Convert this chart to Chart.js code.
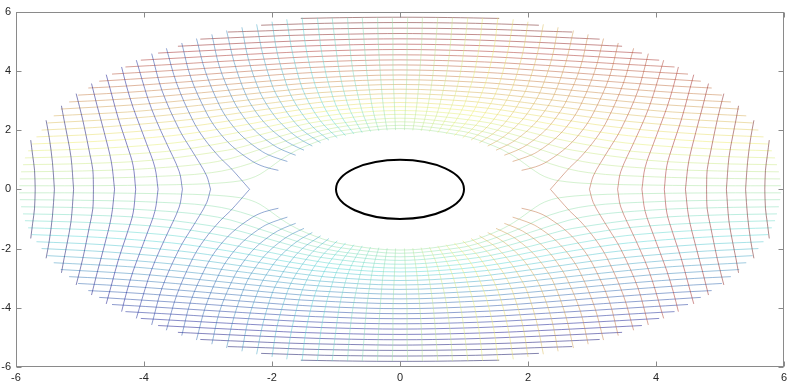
<!DOCTYPE html>
<html>
<head>
<meta charset="utf-8">
<script src="https://cdn.jsdelivr.net/npm/chart.js@4.4.0/dist/chart.umd.min.js"></script>
<style>
  html, body { margin: 0; padding: 0; background: #fff; }
  #wrap { width: 800px; height: 387px; }
</style>
</head>
<body>
<div id="wrap"><canvas id="flowChart"></canvas></div>
<script>
// ===========================================
// FLOW NET AROUND A CYLINDER (contour lines)
// ===========================================

const axisMin = -6;
const axisMax = 6;
const tickValues = [-6, -4, -2, 0, 2, 4, 6];
const cylinderRadius = 1;
const levelCount = 50;      // contour levels in each family
const lineAlpha = 0.5;
const lineSaturation = 0.5; // the lines in the picture look washed out

// Equipotential lines, upper-left quarter of the picture.
// Outermost (far left) first; each runs from y = 0 / the hole up to the outer edge.
const potentialLines = [
  [[-5.70, 0], [-5.71, 0.64], [-5.74, 1.15], [-5.77, 1.66]],
  [[-5.40, 0], [-5.43, 0.90], [-5.48, 1.74], [-5.53, 2.33]],
  [[-5.10, 0], [-5.14, 1.08], [-5.20, 1.81], [-5.25, 2.35], [-5.29, 2.82]],
  [[-4.79, 0], [-4.80, 0.66], [-4.85, 1.23], [-4.96, 2.37], [-5.06, 3.23]],
  [[-4.46, 0], [-4.51, 0.92], [-4.62, 1.91], [-4.73, 2.80], [-4.82, 3.57]],
  [[-4.13, 0], [-4.17, 0.80], [-4.26, 1.46], [-4.40, 2.38], [-4.50, 3.16], [-4.59, 3.87]],
  [[-3.78, 0], [-3.83, 0.74], [-3.96, 1.54], [-4.17, 2.76], [-4.27, 3.46], [-4.35, 4.13]],
  [[-3.40, 0], [-3.45, 0.60], [-3.66, 1.61], [-3.82, 2.38], [-3.94, 3.07], [-4.12, 4.36]],
  [[-2.96, 0], [-3.02, 0.45], [-3.13, 0.88], [-3.25, 1.30], [-3.45, 2.02], [-3.72, 3.34], [-3.88, 4.58]],
  [[-2.35, 0], [-2.65, 0.73], [-2.81, 1.06], [-3.06, 1.71], [-3.24, 2.34], [-3.49, 3.58], [-3.65, 4.76]],
  [[-1.90, 0.64], [-2.12, 0.76], [-2.31, 0.95], [-2.62, 1.45], [-2.86, 2.02], [-3.03, 2.61], [-3.27, 3.78], [-3.41, 4.94]],
  [[-1.76, 0.94], [-1.97, 1.09], [-2.15, 1.27], [-2.44, 1.74], [-2.66, 2.27], [-2.82, 2.83], [-3.04, 3.97], [-3.18, 5.09]],
  [[-1.63, 1.15], [-1.83, 1.32], [-1.99, 1.51], [-2.26, 1.97], [-2.46, 2.49], [-2.61, 3.03], [-2.82, 4.13], [-2.94, 5.23]],
  [[-1.50, 1.32], [-1.68, 1.50], [-1.83, 1.70], [-2.08, 2.16], [-2.27, 2.67], [-2.41, 3.20], [-2.59, 4.28], [-2.71, 5.36]],
  [[-1.37, 1.46], [-1.53, 1.65], [-1.67, 1.86], [-1.90, 2.32], [-2.07, 2.82], [-2.20, 3.34], [-2.37, 4.40], [-2.47, 5.47]],
  [[-1.24, 1.57], [-1.52, 1.99], [-1.72, 2.46], [-1.87, 2.96], [-1.99, 3.47], [-2.14, 4.52], [-2.24, 5.57]],
  [[-1.11, 1.66], [-1.36, 2.10], [-1.54, 2.58], [-1.68, 3.07], [-1.78, 3.58], [-1.92, 4.62], [-2.00, 5.66]],
  [[-0.98, 1.74], [-1.20, 2.20], [-1.36, 2.68], [-1.48, 3.17], [-1.57, 3.68], [-1.69, 4.71], [-1.77, 5.74]],
  [[-0.85, 1.81], [-1.04, 2.28], [-1.18, 2.76], [-1.28, 3.26], [-1.36, 3.76], [-1.47, 4.78], [-1.53, 5.80]],
  [[-0.72, 1.87], [-0.88, 2.34], [-1.00, 2.83], [-1.08, 3.33], [-1.15, 3.83], [-1.24, 4.84], [-1.29, 5.79]],
  [[-0.59, 1.91], [-0.72, 2.40], [-0.82, 2.89], [-0.94, 3.89], [-1.01, 4.90], [-1.06, 5.80]],
  [[-0.46, 1.95], [-0.56, 2.44], [-0.63, 2.93], [-0.73, 3.93], [-0.79, 4.94], [-0.82, 5.80]],
  [[-0.33, 1.97], [-0.40, 2.47], [-0.45, 2.97], [-0.52, 3.97], [-0.56, 4.97], [-0.59, 5.80]],
  [[-0.20, 1.99], [-0.24, 2.49], [-0.27, 2.99], [-0.31, 3.99], [-0.34, 4.99], [-0.35, 5.80]],
  [[-0.07, 2.00], [-0.09, 3.00], [-0.11, 4.00], [-0.11, 5.00], [-0.12, 5.80]]
];

// Streamlines, upper-left quarter: from the left edge to the crest at x = 0.
// The one hugging the hole first, the top one last.
const streamLines = [
  [[-5.95, 0.12], [-5.00, 0.12], [-4.00, 0.14], [-2.99, 0.19], [-2.48, 0.29], [-2.26, 0.43], [-2.12, 0.60], [-1.77, 1.13], [-1.46, 1.47], [-0.96, 1.82], [0, 2.05]],
  [[-5.94, 0.35], [-4.99, 0.37], [-3.98, 0.42], [-2.95, 0.56], [-2.34, 0.87], [-1.91, 1.29], [-1.68, 1.49], [-1.25, 1.81], [-0.91, 1.98], [0, 2.16]],
  [[-5.92, 0.59], [-4.96, 0.62], [-3.94, 0.70], [-2.85, 0.94], [-2.04, 1.45], [-1.68, 1.71], [-1.39, 1.90], [-0.83, 2.14], [0, 2.28]],
  [[-5.89, 0.83], [-4.92, 0.87], [-3.88, 0.98], [-2.70, 1.32], [-2.27, 1.55], [-1.46, 2.03], [-1.09, 2.19], [0, 2.40]],
  [[-5.86, 1.06], [-4.87, 1.12], [-3.80, 1.25], [-3.21, 1.40], [-2.48, 1.69], [-1.89, 2.00], [-1.20, 2.31], [0, 2.53]],
  [[-5.81, 1.30], [-4.81, 1.37], [-3.69, 1.53], [-3.06, 1.71], [-2.17, 2.07], [-1.52, 2.35], [-0.89, 2.55], [0, 2.66]],
  [[-5.75, 1.53], [-4.73, 1.62], [-3.57, 1.81], [-2.86, 2.02], [-2.29, 2.23], [-1.74, 2.45], [-0.97, 2.68], [0, 2.79]],
  [[-5.68, 1.77], [-4.64, 1.87], [-3.41, 2.09], [-2.61, 2.33], [-2.05, 2.52], [-1.32, 2.75], [0, 2.93]],
  [[-5.60, 2.00], [-4.53, 2.12], [-3.22, 2.37], [-2.30, 2.64], [-1.54, 2.86], [-1.03, 2.98], [0, 3.08]],
  [[-5.51, 2.24], [-4.41, 2.37], [-3.76, 2.48], [-3.00, 2.65], [-2.17, 2.87], [-1.30, 3.09], [0, 3.23]],
  [[-5.41, 2.48], [-4.26, 2.61], [-3.57, 2.74], [-2.73, 2.93], [-2.02, 3.10], [-1.27, 3.26], [0, 3.38]],
  [[-5.30, 2.71], [-4.10, 2.86], [-3.36, 3.00], [-2.39, 3.21], [-1.84, 3.33], [-1.23, 3.44], [0, 3.54]],
  [[-5.17, 2.95], [-4.60, 3.01], [-3.91, 3.11], [-3.10, 3.26], [-1.96, 3.49], [-1.17, 3.62], [0, 3.70]],
  [[-5.03, 3.18], [-4.43, 3.25], [-3.70, 3.36], [-2.81, 3.52], [-2.08, 3.65], [-1.35, 3.76], [0, 3.86]],
  [[-4.87, 3.42], [-4.25, 3.49], [-3.46, 3.61], [-2.44, 3.78], [-1.70, 3.90], [-0.99, 3.98], [0, 4.03]],
  [[-4.70, 3.65], [-4.04, 3.74], [-3.18, 3.86], [-2.28, 4.00], [-1.42, 4.11], [0, 4.20]],
  [[-4.50, 3.89], [-3.80, 3.98], [-2.85, 4.11], [-2.08, 4.21], [-1.32, 4.30], [0, 4.37]],
  [[-4.29, 4.13], [-3.53, 4.22], [-2.93, 4.30], [-2.17, 4.39], [-1.21, 4.49], [0, 4.54]],
  [[-4.05, 4.36], [-3.22, 4.46], [-2.53, 4.54], [-1.77, 4.62], [-1.06, 4.68], [0, 4.72]],
  [[-3.78, 4.60], [-2.86, 4.70], [-2.19, 4.77], [-1.45, 4.84], [0, 4.90]],
  [[-3.47, 4.83], [-2.69, 4.91], [-1.94, 4.98], [-1.02, 5.05], [0, 5.08]],
  [[-3.12, 5.07], [-2.49, 5.13], [-1.64, 5.20], [-0.77, 5.24], [0, 5.26]],
  [[-2.69, 5.31], [-2.10, 5.35], [-1.25, 5.41], [0, 5.44]],
  [[-2.17, 5.54], [-1.59, 5.58], [-1.04, 5.61], [0, 5.63]],
  [[-1.55, 5.77], [-0.74, 5.80], [0, 5.81]]
];

// jet colormap, v in 0..1, toned down towards grey and made see-through
function jetColor(v) {
  const clamp = t => 255 * Math.max(0, Math.min(1, t));
  const r = clamp(1.5 - Math.abs(4 * v - 3));
  const g = clamp(1.5 - Math.abs(4 * v - 2));
  const b = clamp(1.5 - Math.abs(4 * v - 1));
  const lum = 0.299 * r + 0.587 * g + 0.114 * b;
  const mix = c => Math.round(lum + (c - lum) * lineSaturation);
  return `rgba(${mix(r)},${mix(g)},${mix(b)},${lineAlpha})`;
}

function lineSet(points, color) {
  return {
    data: points,
    showLine: true,
    borderColor: color,
    borderWidth: 1,
    pointRadius: 0,
    tension: 0.35,
    fill: false
  };
}

function levelColor(k) {
  return jetColor(k / (levelCount + 1));
}

const datasets = [];

// the picture is symmetric about both axes, so each quarter line gives four
potentialLines.forEach((pts, i) => {
  const leftLevel = i + 1;
  const rightLevel = levelCount - i;
  [[1, 1, leftLevel], [1, -1, leftLevel], [-1, 1, rightLevel], [-1, -1, rightLevel]].forEach(([sx, sy, k]) => {
    datasets.push(lineSet(pts.map(([x, y]) => ({ x: sx * x, y: sy * y })), levelColor(k)));
  });
});

streamLines.forEach((pts, i) => {
  const left = pts.map(([x, y]) => ({ x, y }));
  const right = pts.slice(0, -1).reverse().map(([x, y]) => ({ x: -x, y }));
  const full = left.concat(right);
  datasets.push(lineSet(full, levelColor(levelCount / 2 + 1 + i)));
  datasets.push(lineSet(full.map(p => ({ x: p.x, y: -p.y })), levelColor(levelCount / 2 - i)));
});

// box with inward ticks on all sides, plus the cylinder outline
const framePlugin = {
  id: 'frame',
  afterDatasetsDraw(chart) {
    const { ctx, chartArea: a, scales: { x, y } } = chart;
    ctx.save();

    const cx = x.getPixelForValue(0);
    const cy = y.getPixelForValue(0);
    ctx.beginPath();
    ctx.ellipse(cx, cy,
      x.getPixelForValue(cylinderRadius) - cx,
      cy - y.getPixelForValue(cylinderRadius), 0, 0, Math.PI * 2);
    ctx.lineWidth = 2;
    ctx.strokeStyle = '#000';
    ctx.stroke();

    const L = Math.round(a.left) + 0.5, R = Math.round(a.right) - 0.5;
    const T = Math.round(a.top) + 0.5, B = Math.round(a.bottom) - 0.5;
    ctx.lineWidth = 1;
    ctx.strokeStyle = '#8a8a8a';
    ctx.strokeRect(L, T, R - L, B - T);
    ctx.beginPath();
    tickValues.forEach(v => {
      const px = Math.round(x.getPixelForValue(v)) + 0.5;
      ctx.moveTo(px, B); ctx.lineTo(px, B - 5);
      ctx.moveTo(px, T); ctx.lineTo(px, T + 5);
      const py = Math.round(y.getPixelForValue(v)) + 0.5;
      ctx.moveTo(L, py); ctx.lineTo(L + 5, py);
      ctx.moveTo(R, py); ctx.lineTo(R - 5, py);
    });
    ctx.stroke();
    ctx.restore();
  }
};

const tickFont = { family: 'Liberation Sans, Arial, sans-serif', size: 11 };

new Chart(document.getElementById('flowChart'), {
  type: 'scatter',
  data: { datasets },
  options: {
    responsive: true,
    maintainAspectRatio: false,
    animation: false,
    layout: { padding: { top: 6, right: 16, left: 0, bottom: 0 } },
    plugins: {
      legend: { display: false },
      tooltip: { enabled: false }
    },
    scales: {
      x: {
        type: 'linear',
        min: axisMin,
        max: axisMax,
        grid: { display: false, drawTicks: false },
        border: { display: false },
        afterBuildTicks: s => { s.ticks = tickValues.map(v => ({ value: v })); },
        afterFit: s => { s.height = 20; },
        ticks: { color: '#262626', font: tickFont, padding: 4, maxRotation: 0 }
      },
      y: {
        type: 'linear',
        min: axisMin,
        max: axisMax,
        grid: { display: false, drawTicks: false },
        border: { display: false },
        afterBuildTicks: s => { s.ticks = tickValues.map(v => ({ value: v })); },
        afterFit: s => { s.width = 16; },
        ticks: { color: '#262626', font: tickFont, padding: 5 }
      }
    }
  },
  plugins: [framePlugin]
});
</script>
</body>
</html>
